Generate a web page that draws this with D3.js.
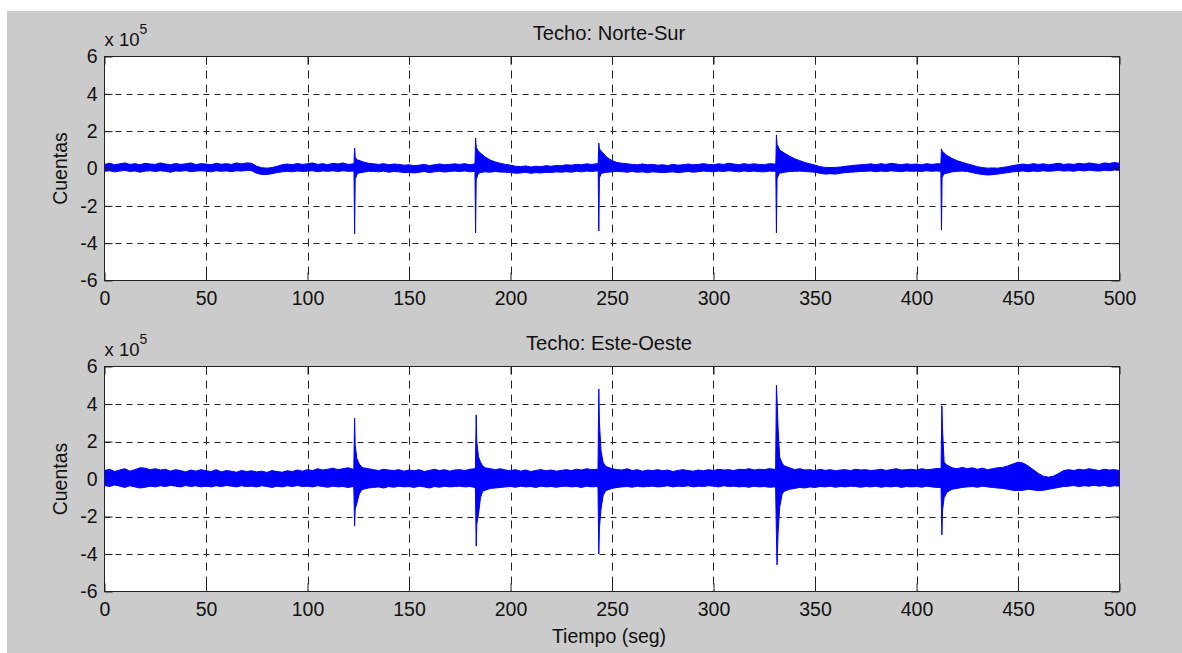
<!DOCTYPE html>
<html><head><meta charset="utf-8">
<script src="https://cdn.jsdelivr.net/npm/d3@7"></script>
<style>html,body{margin:0;padding:0;background:#fff;}svg{display:block;}text{font-family:"Liberation Sans",Arial,sans-serif;fill:#111;}</style>
</head><body><svg id="c" width="1182" height="653"></svg>
<script>
// ---------------- DATA (values in units of 10^5 counts) ----------------
const titles = ["Techo: Norte-Sur", "Techo: Este-Oeste"];
const yLabel = "Cuentas";
const xLabel = "Tiempo (seg)";
const xTicks = [0, 50, 100, 150, 200, 250, 300, 350, 400, 450, 500];
const yTicks = [-6, -4, -2, 0, 2, 4, 6];
const sampleStep = 2.5; // seconds between envelope samples (0..500)

// Norte-Sur: upper / lower envelope of the trace every 2.5 s
const nsHi = [
 0.22,0.28,0.2,0.25,0.3,0.22,0.26,0.2,0.28,0.24,
 0.22,0.3,0.24,0.2,0.27,0.22,0.25,0.3,0.21,0.26,
 0.24,0.2,0.28,0.23,0.26,0.22,0.3,0.25,0.3,0.28,
 0.12,0.04,0.02,0.05,0.12,0.2,0.24,0.2,0.27,0.22,
 0.25,0.3,0.22,0.26,0.2,0.28,0.24,0.3,0.22,0.25,
 0.45,0.35,0.28,0.25,0.22,0.26,0.2,0.24,0.22,0.18,
 0.2,0.15,0.18,0.22,0.16,0.2,0.24,0.2,0.22,0.25,
 0.22,0.26,0.2,0.25,0.85,0.62,0.45,0.35,0.28,0.22,
 0.18,0.12,0.1,0.14,0.08,0.12,0.1,0.15,0.12,0.16,
 0.15,0.2,0.18,0.22,0.2,0.25,0.22,0.26,0.9,0.6,
 0.42,0.32,0.28,0.25,0.22,0.2,0.24,0.2,0.22,0.18,
 0.2,0.16,0.22,0.18,0.2,0.24,0.2,0.22,0.26,0.22,
 0.2,0.25,0.22,0.28,0.24,0.2,0.26,0.22,0.25,0.22,
 0.2,0.26,0.24,1.0,0.82,0.66,0.52,0.42,0.32,0.25,
 0.18,0.1,0.06,0.05,0.06,0.08,0.12,0.15,0.18,0.2,
 0.22,0.25,0.2,0.26,0.22,0.28,0.24,0.2,0.25,0.22,
 0.24,0.2,0.26,0.22,0.25,0.25,0.7,0.54,0.42,0.33,
 0.25,0.18,0.1,0.05,0.02,0.03,0.02,0.06,0.1,0.16,
 0.2,0.24,0.2,0.26,0.22,0.25,0.2,0.24,0.28,0.22,
 0.25,0.22,0.28,0.24,0.3,0.26,0.22,0.3,0.27,0.32,
 0.28];
const nsLo = [
 -0.15,-0.12,-0.18,-0.14,-0.1,-0.16,-0.13,-0.2,-0.14,-0.12,
 -0.16,-0.12,-0.15,-0.2,-0.13,-0.15,-0.11,-0.17,-0.14,-0.12,
 -0.14,-0.18,-0.12,-0.15,-0.13,-0.17,-0.12,-0.14,-0.1,-0.12,
 -0.26,-0.32,-0.32,-0.28,-0.22,-0.18,-0.15,-0.18,-0.13,-0.16,
 -0.14,-0.12,-0.17,-0.13,-0.15,-0.12,-0.16,-0.12,-0.15,-0.14,
 -0.25,-0.2,-0.15,-0.16,-0.18,-0.14,-0.2,-0.16,-0.18,-0.22,
 -0.2,-0.24,-0.2,-0.16,-0.22,-0.18,-0.15,-0.19,-0.16,-0.14,
 -0.16,-0.13,-0.18,-0.15,-0.22,-0.18,-0.2,-0.16,-0.19,-0.2,
 -0.22,-0.25,-0.24,-0.2,-0.26,-0.22,-0.24,-0.2,-0.22,-0.18,
 -0.2,-0.17,-0.2,-0.15,-0.18,-0.14,-0.16,-0.13,-0.25,-0.2,
 -0.18,-0.15,-0.17,-0.2,-0.16,-0.2,-0.18,-0.22,-0.18,-0.2,
 -0.22,-0.2,-0.18,-0.22,-0.19,-0.16,-0.2,-0.17,-0.14,-0.16,
 -0.18,-0.14,-0.16,-0.12,-0.15,-0.18,-0.13,-0.16,-0.14,-0.17,
 -0.18,-0.14,-0.15,-0.25,-0.2,-0.16,-0.15,-0.14,-0.16,-0.18,
 -0.2,-0.26,-0.3,-0.28,-0.3,-0.26,-0.22,-0.2,-0.18,-0.16,
 -0.15,-0.13,-0.17,-0.14,-0.16,-0.12,-0.15,-0.17,-0.13,-0.15,
 -0.14,-0.16,-0.12,-0.15,-0.13,-0.15,-0.25,-0.18,-0.15,-0.14,
 -0.16,-0.22,-0.28,-0.32,-0.35,-0.33,-0.3,-0.26,-0.22,-0.18,
 -0.16,-0.13,-0.17,-0.14,-0.16,-0.12,-0.15,-0.13,-0.1,-0.14,
 -0.12,-0.15,-0.1,-0.13,-0.09,-0.12,-0.14,-0.1,-0.12,-0.08,
 -0.1];
// Norte-Sur: detailed points around the five impulses
const nsEvT  = [122.9,123.2,123.5,124.5, 182.5,182.8,183.1,184.0, 243.2,243.5,243.8,244.6, 330.7,331.0,331.3,332.2, 412.0,412.3,412.6,413.4];
const nsEvHi = [0.25,1.1,0.6,0.45, 0.25,1.63,1.15,0.95, 0.25,1.36,1.05,0.95, 0.25,1.8,1.3,1.1, 0.25,1.05,0.95,0.85];
const nsEvLo = [-0.15,-3.5,-0.55,-0.3, -0.15,-3.45,-0.6,-0.3, -0.15,-3.35,-0.5,-0.3, -0.15,-3.45,-0.55,-0.3, -0.15,-3.3,-0.5,-0.3];

// Este-Oeste: upper / lower envelope every 2.5 s
const ewHi = [
 0.45,0.52,0.4,0.48,0.55,0.42,0.5,0.6,0.58,0.5,
 0.55,0.48,0.52,0.42,0.5,0.45,0.38,0.48,0.42,0.5,
 0.44,0.4,0.5,0.38,0.45,0.42,0.36,0.46,0.4,0.44,
 0.38,0.42,0.35,0.45,0.4,0.36,0.44,0.4,0.48,0.42,
 0.5,0.45,0.55,0.48,0.52,0.58,0.5,0.55,0.6,0.52,
 0.7,0.6,0.55,0.5,0.45,0.52,0.48,0.45,0.5,0.42,
 0.48,0.44,0.5,0.4,0.46,0.52,0.45,0.5,0.42,0.48,
 0.5,0.45,0.52,0.55,0.7,0.6,0.55,0.5,0.55,0.48,
 0.45,0.5,0.42,0.48,0.4,0.46,0.5,0.44,0.48,0.42,
 0.46,0.5,0.45,0.52,0.48,0.55,0.5,0.52,0.8,0.65,
 0.55,0.5,0.48,0.55,0.45,0.5,0.42,0.48,0.45,0.5,
 0.44,0.48,0.4,0.46,0.5,0.45,0.42,0.48,0.44,0.5,
 0.45,0.52,0.48,0.5,0.45,0.52,0.5,0.55,0.48,0.52,
 0.5,0.55,0.52,0.9,0.7,0.6,0.5,0.55,0.48,0.5,
 0.45,0.52,0.46,0.5,0.44,0.48,0.5,0.45,0.52,0.48,
 0.5,0.45,0.48,0.52,0.46,0.5,0.55,0.48,0.5,0.52,
 0.48,0.55,0.5,0.52,0.56,0.6,0.75,0.6,0.55,0.62,
 0.55,0.6,0.52,0.58,0.5,0.55,0.6,0.62,0.7,0.8,
 0.9,0.85,0.7,0.5,0.3,0.15,0.1,0.15,0.3,0.45,
 0.5,0.45,0.52,0.48,0.55,0.5,0.45,0.52,0.48,0.5,
 0.45];
const ewLo = [
 -0.35,-0.4,-0.32,-0.38,-0.45,-0.36,-0.42,-0.48,-0.44,-0.38,
 -0.42,-0.36,-0.4,-0.34,-0.38,-0.42,-0.35,-0.4,-0.36,-0.42,
 -0.38,-0.42,-0.36,-0.4,-0.35,-0.38,-0.42,-0.36,-0.4,-0.38,
 -0.42,-0.36,-0.4,-0.45,-0.38,-0.42,-0.36,-0.4,-0.35,-0.4,
 -0.38,-0.42,-0.36,-0.4,-0.44,-0.38,-0.42,-0.4,-0.45,-0.4,
 -0.7,-0.55,-0.48,-0.45,-0.42,-0.48,-0.4,-0.44,-0.38,-0.42,
 -0.4,-0.45,-0.38,-0.42,-0.48,-0.4,-0.44,-0.38,-0.42,-0.4,
 -0.38,-0.42,-0.4,-0.45,-0.75,-0.6,-0.5,-0.48,-0.45,-0.42,
 -0.4,-0.44,-0.38,-0.42,-0.4,-0.45,-0.38,-0.42,-0.4,-0.44,
 -0.4,-0.38,-0.42,-0.4,-0.45,-0.38,-0.42,-0.4,-0.8,-0.6,
 -0.5,-0.45,-0.42,-0.4,-0.44,-0.38,-0.42,-0.4,-0.38,-0.42,
 -0.4,-0.36,-0.42,-0.38,-0.4,-0.36,-0.42,-0.38,-0.4,-0.36,
 -0.38,-0.42,-0.36,-0.4,-0.38,-0.42,-0.4,-0.44,-0.38,-0.42,
 -0.4,-0.44,-0.42,-0.9,-0.65,-0.55,-0.5,-0.45,-0.48,-0.42,
 -0.45,-0.4,-0.42,-0.38,-0.44,-0.4,-0.42,-0.38,-0.4,-0.44,
 -0.4,-0.42,-0.38,-0.44,-0.4,-0.42,-0.38,-0.45,-0.4,-0.42,
 -0.4,-0.44,-0.38,-0.42,-0.45,-0.6,-0.7,-0.55,-0.5,-0.45,
 -0.42,-0.4,-0.44,-0.38,-0.42,-0.45,-0.48,-0.5,-0.55,-0.6,
 -0.62,-0.6,-0.55,-0.58,-0.62,-0.6,-0.55,-0.5,-0.45,-0.4,
 -0.38,-0.35,-0.4,-0.36,-0.38,-0.34,-0.38,-0.35,-0.4,-0.36,
 -0.38];
// Este-Oeste: detailed points around the five impulses
const ewEvT  = [122.8,123.2,123.5,124.3,125.5,126.6, 182.7,183.1,183.4,184.2,185.2,186.3, 243.1,243.5,243.8,244.6,245.6,246.7, 330.6,331.0,331.3,331.8,332.6,333.8,334.8, 412.1,412.5,412.8,413.6,414.8];
const ewEvHi = [0.5,3.24,1.8,1.1,0.8,0.65, 0.5,3.42,2.0,1.2,0.9,0.7, 0.5,4.8,3.0,1.5,0.9,0.7, 0.5,5.0,4.3,2.76,1.16,0.85,0.7, 0.55,3.9,2.7,0.9,0.75];
const ewEvLo = [-0.42,-2.5,-1.6,-1.3,-0.8,-0.6, -0.42,-3.58,-2.4,-1.9,-1.0,-0.65, -0.42,-4.0,-2.6,-1.6,-0.9,-0.65, -0.44,-3.0,-4.58,-2.9,-1.5,-0.8,-0.65, -0.45,-2.98,-1.7,-1.0,-0.75];

// ---------------- BUILD ----------------
function buildSeries(hi, lo, evT, evHi, evLo) {
  const base = hi.map((h, i) => ({t: i * sampleStep, hi: h, lo: lo[i]}));
  const ev = evT.map((t, i) => ({t, hi: evHi[i], lo: evLo[i]}));
  const groups = [];
  ev.forEach((p, i) => {
    if (i === 0 || p.t - ev[i - 1].t > 2) groups.push([p.t, p.t]);
    else groups[groups.length - 1][1] = p.t;
  });
  const kept = base.filter(p => !groups.some(g => p.t >= g[0] && p.t <= g[1]));
  return kept.concat(ev).sort((a, b) => a.t - b.t);
}
const series = [
  buildSeries(nsHi, nsLo, nsEvT, nsEvHi, nsEvLo),
  buildSeries(ewHi, ewLo, ewEvT, ewEvHi, ewEvLo)
];

const svg = d3.select("#c");
svg.append("rect").attr("x", 7).attr("y", 11).attr("width", 1175).attr("height", 642).attr("fill", "#cbcbcb");

const L = 104.5, R = 1119.5;
const panelBox = [[56.5, 280.5], [366.5, 591.5]];
const x = d3.scaleLinear().domain([0, 500]).range([L, R]);
const FS = 19.5;
const fmt = d => String(d);

panelBox.forEach(([top, bot], k) => {
  const y = d3.scaleLinear().domain([-6, 6]).range([bot, top]);
  const g = svg.append("g");
  g.append("rect").attr("x", L).attr("y", top).attr("width", R - L).attr("height", bot - top).attr("fill", "#fff");

  // grid
  g.append("g").selectAll("line").data(xTicks.slice(1, -1)).join("line")
    .attr("x1", d => Math.round(x(d)) + 0.5).attr("x2", d => Math.round(x(d)) + 0.5)
    .attr("y1", top).attr("y2", bot)
    .attr("stroke", "#222").attr("stroke-width", 1).attr("stroke-dasharray", "8,6");
  g.append("g").selectAll("line").data(yTicks.slice(1, -1)).join("line")
    .attr("y1", d => Math.round(y(d)) + 0.5).attr("y2", d => Math.round(y(d)) + 0.5)
    .attr("x1", L).attr("x2", R)
    .attr("stroke", "#222").attr("stroke-width", 1).attr("stroke-dasharray", "6,5");

  // signal
  const area = d3.area().x(d => x(d.t)).y0(d => y(d.lo)).y1(d => y(d.hi));
  g.append("path").datum(series[k]).attr("d", area)
    .attr("fill", "#0000ff").attr("stroke", "#0000ff").attr("stroke-width", 1).attr("stroke-linejoin", "miter");

  // axes
  const ax = (gen, tr) => {
    const a = g.append("g").attr("transform", tr).call(gen);
    a.select(".domain").remove();
    a.selectAll(".tick line").attr("stroke", "#222");
    a.selectAll("text").attr("font-size", FS).attr("font-family", "Liberation Sans, Arial, sans-serif").attr("fill", "#111");
    return a;
  };
  ax(d3.axisBottom(x).tickValues(xTicks).tickFormat(fmt).tickSizeInner(-8).tickSizeOuter(0).tickPadding(11), `translate(0,${bot})`);
  ax(d3.axisTop(x).tickValues(xTicks).tickSizeInner(-8).tickSizeOuter(0).tickFormat(""), `translate(0,${top})`);
  ax(d3.axisLeft(y).tickValues(yTicks).tickFormat(fmt).tickSizeInner(-8).tickSizeOuter(0).tickPadding(7), `translate(${L},0)`);
  ax(d3.axisRight(y).tickValues(yTicks).tickSizeInner(-8).tickSizeOuter(0).tickFormat(""), `translate(${R},0)`);

  g.append("rect").attr("x", L).attr("y", top).attr("width", R - L).attr("height", bot - top)
    .attr("fill", "none").attr("stroke", "#222").attr("stroke-width", 1);

  g.append("text").attr("x", 609).attr("y", top - 17).attr("text-anchor", "middle").attr("font-size", 20.2).text(titles[k]);
  const ex = g.append("text").attr("x", L).attr("y", top - 11).attr("font-size", 18.5);
  ex.append("tspan").text("x 10");
  ex.append("tspan").attr("dy", -12).attr("font-size", 14).text("5");
  g.append("text").attr("transform", `translate(67,${(top + bot) / 2}) rotate(-90)`).attr("text-anchor", "middle").attr("font-size", FS).text(yLabel);
});

svg.append("text").attr("x", 609).attr("y", 643).attr("text-anchor", "middle").attr("font-size", FS).text(xLabel);
</script></body></html>
